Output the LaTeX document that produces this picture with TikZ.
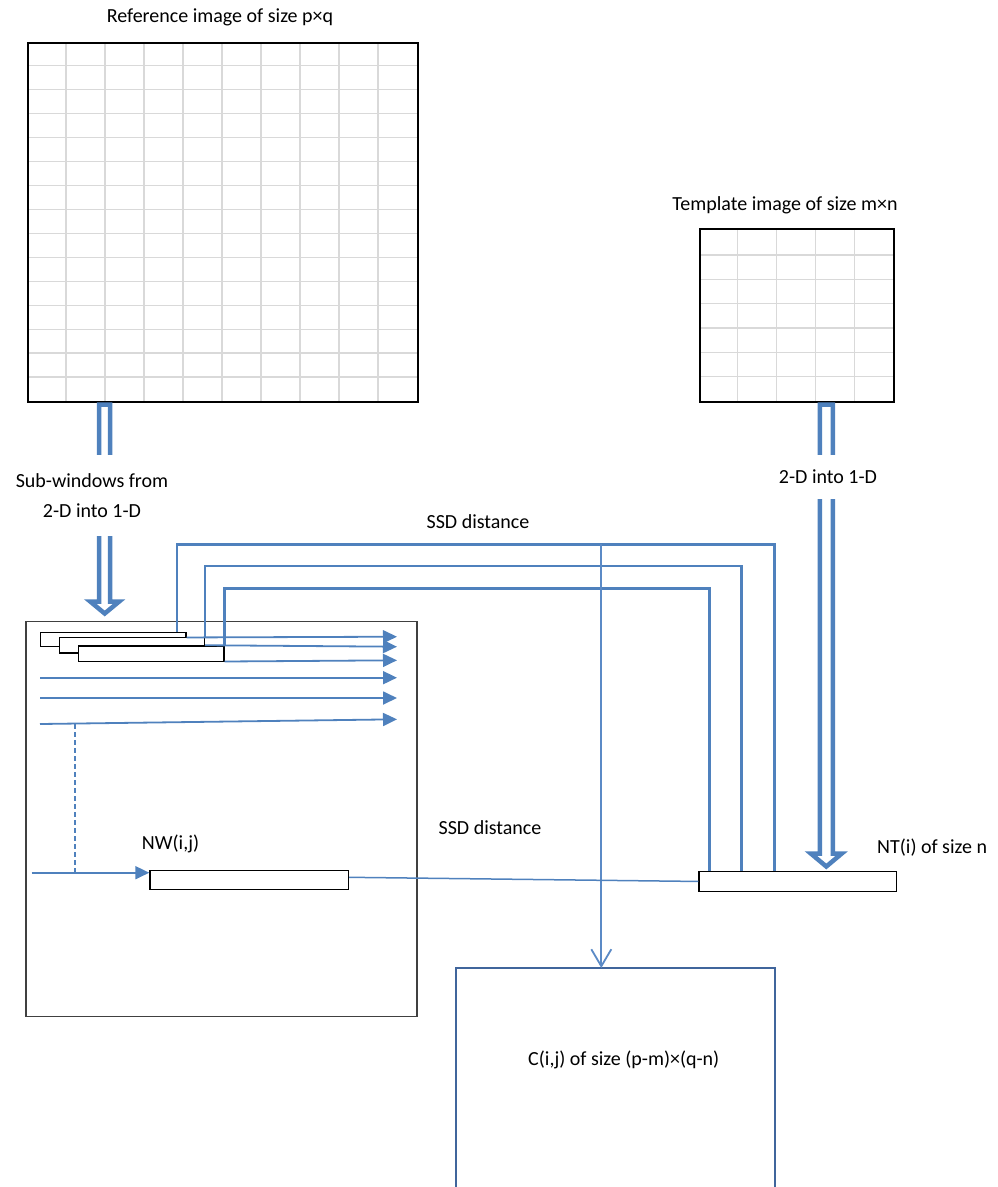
\documentclass[tikz,border=0pt]{standalone}
\usepackage{fontspec}
\setmainfont{Carlito}
\usetikzlibrary{arrows.meta,calc}
\definecolor{lblue}{HTML}{4F81BD}
\definecolor{cblue}{HTML}{40659C}
\definecolor{vblue}{HTML}{5B8AC6}
\definecolor{gridgray}{HTML}{D9D9D9}
\definecolor{midgray}{HTML}{404040}
\begin{document}
\begin{tikzpicture}[x=1pt,y=-1pt,
  font=\fontsize{20}{30}\selectfont,
  imgbox/.style={draw=black, line width=2pt, inner sep=0pt, anchor=north west},
  gridline/.style={draw=gridgray, line width=1.3pt},
  winbox/.style={draw=black, fill=white, line width=1.2pt, inner sep=0pt, anchor=north west},
  blockarrow/.style={draw=lblue, line width=4.5pt, fill=white, line join=miter},
  rowarrow/.style={draw=lblue, line width=1.8pt, -{Triangle[length=14pt,width=13pt]}},
  ssdline/.style={draw=lblue, line width=2.5pt},
  thinblue/.style={draw=lblue, line width=1.5pt},
  lbl/.style={inner sep=0pt, text=black}
]
\useasboundingbox (0,0) rectangle (998,1187);

% reference image grid
\foreach \i in {1,...,9} \draw[gridline] (27+39*\i,42) -- (27+39*\i,401);
\foreach \j in {1,...,14} \draw[gridline] (27,401-23.95*\j) -- (417,401-23.95*\j);
\node[imgbox, minimum width=390pt, minimum height=359pt] (ref) at (27,42) {};

% template grid
\foreach \i in {1,...,4} \draw[gridline] (699+38.8*\i,228) -- (699+38.8*\i,401);
\foreach \j in {1,...,6} \draw[gridline] (699,401-24.33*\j) -- (893,401-24.33*\j);
\node[imgbox, minimum width=194pt, minimum height=173pt] (tpl) at (699,228) {};

% block arrows
\draw[blockarrow] (99.2,404.5) -- (110.2,404.5) -- (110.2,601.5) -- (119.2,601.5)
  -- (104.7,613.5) -- (90.2,601.5) -- (99.2,601.5) -- cycle;
\draw[blockarrow] (819.8,404.5) -- (832.8,404.5) -- (832.8,853.5) -- (841.8,853.5)
  -- (826.3,866.5) -- (810.8,853.5) -- (819.8,853.5) -- cycle;
\node[lbl, fill=white, minimum height=81pt, align=center] (sublbl) at (92,495.5)
  {Sub-windows from\\2-D into 1-D};
\node[lbl, fill=white, minimum height=44pt] (tpllbl) at (828,477) {2-D into 1-D};

% middle box
\node[draw=midgray, line width=1.3pt, inner sep=0pt, anchor=north west,
  minimum width=391pt, minimum height=395pt] (mid) at (25.3,621) {};

% stacked windows
\node[winbox, minimum width=145.3pt, minimum height=14.3pt] (win1) at (40,631.7) {};
\node[winbox, minimum width=145pt, minimum height=15.3pt] (win2) at (59,637) {};
\node[winbox, minimum width=145.3pt, minimum height=15.4pt] (win3) at (78,645.3) {};

% NW and NT boxes
\node[winbox, minimum width=198.7pt, minimum height=19pt] (nw) at (149.3,870) {};
\node[winbox, minimum width=197.7pt, minimum height=19.7pt] (nt) at (698.3,871) {};

% row arrows
\coordinate (e1) at (397,636.7);
\coordinate (e2) at (397,646.7);
\coordinate (e3) at (397,660.3);
\coordinate (s4) at (40,677.7);  \coordinate (e4) at (397,677.7);
\coordinate (s5) at (40,698);    \coordinate (e5) at (397,698);
\coordinate (s6) at (40,724);    \coordinate (e6) at (397,719.3);
\draw[rowarrow] ($(win1.east)+(0,-2)$) -- (e1);
\draw[rowarrow] (win2.east) -- (e2);
\draw[rowarrow] ($(win3.south east)+(0,-0.4)$) -- (e3);
\draw[rowarrow] (s4) -- (e4);
\draw[rowarrow] (s5) -- (e5);
\draw[rowarrow] (s6) -- (e6);

% SSD loops
\draw[ssdline] ($(win1.north east)+(-9.3,0)$) -- ++(0,-87.4) -| ($(nt.north west)+(76.4,0)$);
\draw[ssdline] (win2.north east) -- ++(0,-71) -| ($(nt.north west)+(43.4,0)$);
\draw[ssdline] (win3.north east) -- ++(0,-56.6) -| ($(nt.north west)+(11.4,0)$);

% C box
\coordinate (cnw) at (456,968);
\coordinate (cne) at (775,968);
\draw[draw=cblue, line width=2pt] (456,1195) -- (cnw) -- (cne) -- (775,1195);
\coordinate (ssdtop) at (601.3,544.3);
\draw[draw=vblue, line width=1.8pt, -{Straight Barb[length=17pt,width=20pt]}]
  (ssdtop) -- (cnw -| ssdtop);

% NW input and dashed line
\coordinate (s7) at (31.7,872.7);
\draw[rowarrow] (s7) -- ($(nw.north west)+(0,2.7)$);
\draw[thinblue, dash pattern=on 5pt off 3pt] (75,724) -- (75,872.7);
\draw[thinblue] ($(nw.east)+(0,-2.8)$) -- (nt.west);

% labels
\node[lbl] (t1) at (220,17) {Reference image of size p×q};
\node[lbl] (t2) at (785,205) {Template image of size m×n};
\node[lbl] (ssd1) at (478,522) {SSD distance};
\node[lbl] (ssd2) at (490,828) {SSD distance};
\node[lbl, anchor=west] (ntl) at (877,848) {NT(i) of size n};
\node[lbl, anchor=west] (nwl) at (141.7,844) {NW(i,j)};
\node[lbl] (cl) at (623.8,1059.5) {C(i,j) of size (p-m)×(q-n)};
\end{tikzpicture}
\end{document}
